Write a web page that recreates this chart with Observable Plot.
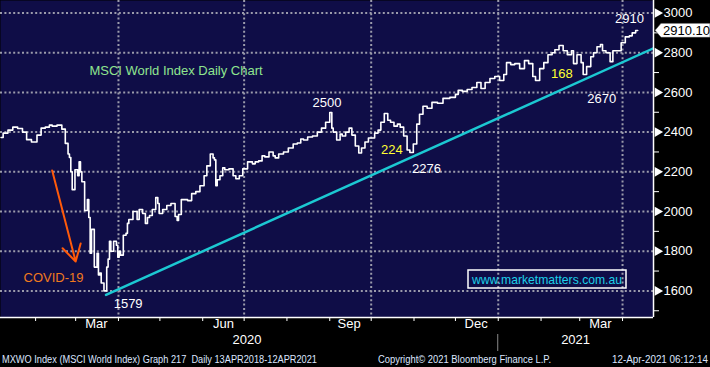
<!DOCTYPE html>
<html><head><meta charset="utf-8">
<script src="https://cdn.jsdelivr.net/npm/d3@7"></script>
<script src="https://cdn.jsdelivr.net/npm/@observablehq/plot@0.6"></script>
<style>
html,body{margin:0;padding:0;background:#000;}
#chart svg{display:block}
</style></head><body><div id="chart"></div>
<script>
// ---- Data ----
const dates = [
"2020-01-07","2020-01-10","2020-01-14","2020-01-17","2020-01-21","2020-01-24","2020-01-27","2020-01-31",
"2020-02-04","2020-02-06","2020-02-10","2020-02-12","2020-02-14","2020-02-19","2020-02-21","2020-02-24",
"2020-02-25","2020-02-26","2020-02-27","2020-02-28","2020-03-02","2020-03-03","2020-03-04","2020-03-05",
"2020-03-06","2020-03-09","2020-03-10","2020-03-11","2020-03-12","2020-03-13","2020-03-16","2020-03-17",
"2020-03-18","2020-03-19","2020-03-20","2020-03-23","2020-03-24","2020-03-25","2020-03-26","2020-03-27",
"2020-03-30","2020-03-31","2020-04-01","2020-04-02","2020-04-03","2020-04-06","2020-04-07","2020-04-08",
"2020-04-09","2020-04-14","2020-04-15","2020-04-17","2020-04-20","2020-04-21","2020-04-23","2020-04-24",
"2020-04-27","2020-04-29","2020-04-30","2020-05-01","2020-05-05","2020-05-07","2020-05-11","2020-05-13",
"2020-05-14","2020-05-15","2020-05-18","2020-05-20","2020-05-22","2020-05-26","2020-05-28","2020-06-01",
"2020-06-03","2020-06-05","2020-06-08","2020-06-09","2020-06-10","2020-06-11","2020-06-12","2020-06-15",
"2020-06-16","2020-06-18","2020-06-22","2020-06-24","2020-06-26","2020-06-29","2020-07-01","2020-07-06",
"2020-07-08","2020-07-10","2020-07-13","2020-07-15","2020-07-17","2020-07-21","2020-07-23","2020-07-24",
"2020-07-28","2020-07-31","2020-08-04","2020-08-07","2020-08-10","2020-08-12","2020-08-14","2020-08-18",
"2020-08-21","2020-08-25","2020-08-27","2020-08-31","2020-09-02","2020-09-03","2020-09-04","2020-09-08",
"2020-09-09","2020-09-11","2020-09-14","2020-09-16","2020-09-18","2020-09-21","2020-09-23","2020-09-25",
"2020-09-28","2020-09-30","2020-10-02","2020-10-05","2020-10-07","2020-10-09","2020-10-12","2020-10-14",
"2020-10-16","2020-10-19","2020-10-21","2020-10-23","2020-10-26","2020-10-28","2020-10-30","2020-11-02",
"2020-11-04","2020-11-06","2020-11-09","2020-11-12","2020-11-16","2020-11-20","2020-11-24","2020-11-30",
"2020-12-02","2020-12-04","2020-12-08","2020-12-11","2020-12-15","2020-12-18","2020-12-21","2020-12-24",
"2020-12-28","2020-12-31","2021-01-04","2021-01-06","2021-01-08","2021-01-12","2021-01-14","2021-01-19",
"2021-01-21","2021-01-25","2021-01-27","2021-01-29","2021-02-02","2021-02-04","2021-02-08","2021-02-10",
"2021-02-12","2021-02-16","2021-02-18","2021-02-22","2021-02-24","2021-02-25","2021-03-01","2021-03-03",
"2021-03-04","2021-03-08","2021-03-10","2021-03-12","2021-03-15","2021-03-17","2021-03-18","2021-03-22",
"2021-03-24","2021-03-26","2021-03-30","2021-04-01","2021-04-05","2021-04-07","2021-04-09","2021-04-12"
];
const values = [
2373,2395,2410,2425,2418,2400,2362,2350,
2385,2420,2425,2435,2430,2435,2415,2343,
2290,2272,2200,2110,2210,2180,2250,2200,
2150,2005,2060,1970,1790,1910,1720,1790,
1680,1690,1640,1600,1720,1760,1850,1800,
1850,1830,1770,1800,1780,1880,1890,1940,
1960,2000,1960,2010,1990,1940,1970,1980,
2010,2070,2040,1990,2010,2030,2040,1975,
1955,1985,2060,2060,2055,2090,2100,2130,
2180,2230,2290,2270,2260,2130,2160,2180,
2220,2210,2215,2180,2165,2180,2215,2250,
2240,2250,2255,2280,2275,2300,2280,2270,
2290,2300,2320,2340,2345,2365,2360,2375,
2380,2400,2420,2450,2499,2420,2400,2360,
2390,2380,2400,2420,2385,2330,2295,2320,
2350,2370,2370,2395,2410,2450,2494,2460,
2450,2430,2440,2425,2380,2310,2297,2340,
2440,2490,2530,2520,2550,2545,2570,2575,
2590,2610,2605,2615,2625,2650,2620,2650,
2670,2680,2660,2690,2750,2740,2745,2720,
2760,2745,2680,2660,2720,2750,2790,2800,
2815,2836,2810,2790,2810,2745,2790,2750,
2690,2730,2780,2800,2830,2841,2810,2800,
2755,2810,2810,2850,2880,2885,2900,2912
];
const lastPrice = 2910.10;
const trendDates = ["2020-03-23","2021-04-23"];
const trendValues = [1580, 2821];
const yTicks = [1600,1800,2000,2200,2400,2600,2800,3000];
const yMinorTicks = [1500,1700,1900,2100,2300,2500,2700,2900];
const gridDates = ["2020-04-01","2020-07-01","2020-10-01","2021-01-01","2021-04-01"];
const monthStarts = ["2020-02-01","2020-03-01","2020-04-01","2020-05-01","2020-06-01","2020-07-01","2020-08-01",
  "2020-09-01","2020-10-01","2020-11-01","2020-12-01","2021-01-01","2021-02-01","2021-03-01","2021-04-01"];
const monthLabels = ["Mar","Jun","Sep","Dec","Mar"];
const monthLabelDates = ["2020-03-16","2020-06-16","2020-09-15","2020-12-16","2021-03-16"];
const yearLabels = ["2020","2021"];
const yearLabelDates = ["2020-07-03","2021-02-26"];
const yearBoundary = "2021-01-01";
const noteTexts = ["2500","224","2276","2910","168","2670","1579","COVID-19"];
const noteDates = ["2020-08-30","2020-10-16","2020-11-10","2021-04-06","2021-02-16","2021-03-17","2020-04-08","2020-02-14"];
const noteValues = [2549,2312,2217,2972,2695,2569,1537,1668];
const noteColors = ["#ffffff","#ffff33","#ffffff","#ffffff","#ffff33","#ffffff","#ffffff","#f07a1e"];
const titleText = "MSCI World Index Daily Chart";
const titleDate = "2020-03-11", titleValue = 2710;
const arrowFrom = {date:"2020-02-13", value:2207};
const arrowTo = {date:"2020-03-01", value:1748};
const footerLeft = "MXWO Index (MSCI World Index) Graph 217  Daily 13APR2018-12APR2021";
const footerMid = "Copyright\u00A9 2021 Bloomberg Finance L.P.";
const footerRight = "12-Apr-2021 06:12:14";
const watermark = "www.marketmatters.com.au";

// ---- Build tables ----
const P = d3.utcParse("%Y-%m-%d");
const series = dates.map((d,i)=>({date:P(d), value:values[i]}));
const trend = trendDates.map((d,i)=>({date:P(d), value:trendValues[i]}));
const notes = noteTexts.map((t,i)=>({text:t, date:P(noteDates[i]), value:noteValues[i], color:noteColors[i]}));
const months = monthLabels.map((t,i)=>({text:t, date:P(monthLabelDates[i])}));
const years = yearLabels.map((t,i)=>({text:t, date:P(yearLabelDates[i])}));
const xStart = new Date(Date.UTC(2020,0,6,14));
const xEnd = new Date(Date.UTC(2021,3,23,10));
const yMin = 1466, yMax = 3063;
const NAVY = "#0f0d47";
const GRID = {stroke:"#9b9bab", strokeOpacity:1, strokeWidth:2, strokeDasharray:"2 2.4"};
const FONT = "'Liberation Sans', Arial, sans-serif";

const plot = Plot.plot({
  width: 710, height: 367,
  marginLeft: 0, marginTop: 0, marginRight: 57, marginBottom: 50,
  x: {type:"utc", domain:[xStart, xEnd], axis:null},
  y: {domain:[yMin, yMax], axis:null},
  style: {background:"#000", fontFamily: FONT, color:"white"},
  marks: [
    Plot.frame({fill: NAVY, stroke: null}),
    Plot.gridY(yTicks, GRID),
    Plot.gridX(gridDates.map(P), GRID),
    Plot.line(trend, {x:"date", y:"value", stroke:"#1cc8d2", strokeWidth:2.5, clip:true}),
    Plot.line(series, {x:"date", y:"value", curve:"step", stroke:"white", strokeWidth:1.6}),
    Plot.arrow([{}], {x1:()=>P(arrowFrom.date), y1:()=>arrowFrom.value, x2:()=>P(arrowTo.date), y2:()=>arrowTo.value,
      stroke:"#ff5a0a", strokeWidth:2, headLength:14, bend:0}),
    Plot.text(notes, {x:"date", y:"value", text:"text", fill:"color", fontSize:13}),
    Plot.text([titleText], {x:()=>P(titleDate), y:()=>titleValue, text:d=>d, textAnchor:"start", fill:"#8fe58f", fontSize:13}),
    // axes frame lines
    Plot.ruleX([xEnd], {stroke:"white", strokeWidth:1.5}),
    Plot.ruleY([yMin], {stroke:"white", strokeWidth:1.5}),
    // y axis
    Plot.axisY(yMinorTicks, {anchor:"right", tickSize:5, tickFormat:()=>"", stroke:"white", label:null}),
    Plot.dot(yTicks, {x:()=>xEnd, y:d=>d, symbol:"triangle", rotate:90, r:3.6, fill:"white", stroke:null, dx:4}),
    Plot.axisY(yTicks, {anchor:"right", tickSize:0, tickPadding:10, fill:"white", fontSize:13, textAnchor:"start",
      tickFormat:d3.format("d"), label:null}),
    // x axis
    Plot.axisX(monthStarts.map(P), {anchor:"bottom", tickSize:4, tickFormat:()=>"", stroke:"white", label:null}),
    Plot.text(months, {x:"date", text:"text", frameAnchor:"bottom", dy:10, fill:"white", fontSize:13}),
    Plot.text(years, {x:"date", text:"text", frameAnchor:"bottom", dy:26, fill:"white", fontSize:13})
  ]
});
document.getElementById("chart").appendChild(plot);

// ---- Decorations (price tag, year separator, watermark, footer) ----
const svg = d3.select(plot);
const xs = plot.scale("x"), ys = plot.scale("y");
const xb = xs.apply(P(yearBoundary));
svg.append("line").attr("x1", xb).attr("x2", xb).attr("y1", 334).attr("y2", 351)
  .attr("stroke", "#8a8a8a").attr("stroke-width", 1);

const xr = xs.apply(xEnd), yp = ys.apply(lastPrice);
svg.append("polygon")
  .attr("points", `${xr+2},${yp} ${xr+8},${yp-7} 710,${yp-7} 710,${yp+7} ${xr+8},${yp+7}`)
  .attr("fill", "white").attr("stroke", "#333").attr("stroke-width", 0.5);
svg.append("text").attr("x", xr+10).attr("y", yp).attr("dy", "0.35em").attr("text-anchor", "start")
  .attr("fill", "black").attr("font-size", 13).attr("font-family", FONT).text(lastPrice.toFixed(2));

svg.append("rect").attr("x", 468).attr("y", 270).attr("width", 158).attr("height", 18)
  .attr("fill", "none").attr("stroke", "white").attr("stroke-width", 1.5);
svg.append("text").attr("x", 547).attr("y", 279).attr("dy", "0.35em").attr("text-anchor", "middle")
  .attr("fill", "#1dcfe8").attr("font-size", 13).attr("font-family", FONT)
  .attr("textLength", 150).attr("lengthAdjust", "spacingAndGlyphs").text(watermark);

const foot = (x, len, t) => svg.append("text").attr("x", x).attr("y", 359).attr("dy", "0.35em")
  .attr("text-anchor", "start")
  .attr("fill", "#dde6ff").attr("font-size", 10).attr("font-family", FONT)
  .attr("textLength", len).attr("lengthAdjust", "spacingAndGlyphs").text(t);
foot(2, 315, footerLeft);
foot(378, 173, footerMid);
foot(612, 96, footerRight);
</script></body></html>
